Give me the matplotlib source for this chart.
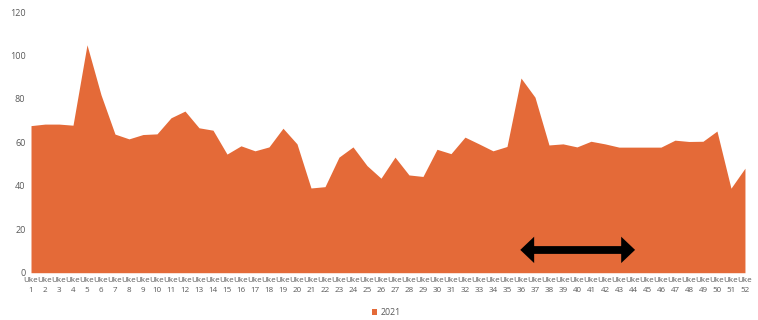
import matplotlib.pyplot as plt
import numpy as np

weeks = list(range(1, 53))
labels = [f"Uke\n{w}" for w in weeks]
values_2021 = [67.7, 68.4, 68.4, 67.9, 104.9, 81.9, 63.8, 61.6, 63.6, 63.9,
               71.3, 74.4, 66.7, 65.6, 54.6, 58.4, 56.1, 57.9, 66.5, 59.3,
               39.0, 39.6, 53.2, 57.9, 49.3, 43.5, 53.2, 45.0, 44.3, 56.8,
               54.8, 62.4, 59.3, 56.1, 58.1, 89.6, 80.8, 58.8, 59.3, 57.9,
               60.5, 59.3, 57.8, 57.8, 57.8, 57.8, 61.0, 60.4, 60.5, 65.2,
               38.9, 48.1]
arrow_span = (35.95, 44.15)
arrow_level = 10.5

orange = '#E46A38'
grey = '#595959'

fig = plt.figure(figsize=(7.58, 3.2), dpi=100)
ax = fig.add_axes([0.0409, 0.1478, 0.9419, 0.8147])

ax.fill_between(weeks, values_2021, 0, color=orange, lw=0, label='2021')

# double arrow: straight shaft plus a head at each end
ax.plot([arrow_span[0] + 0.4, arrow_span[1] - 0.4], [arrow_level, arrow_level],
        color='black', lw=5.6, solid_capstyle='butt')
for end, start in [(arrow_span[0], arrow_span[0] + 1.0), (arrow_span[1], arrow_span[1] - 1.0)]:
    ax.annotate('', xy=(end, arrow_level), xytext=(start, arrow_level),
                arrowprops=dict(arrowstyle='simple,head_length=0.5,head_width=0.95,tail_width=0.3',
                                color='black', lw=0, mutation_scale=20,
                                shrinkA=0, shrinkB=0))

ax.set_xlim(1, 52)
ax.set_ylim(0, 120)
ax.set_yticks(range(0, 121, 20))
ax.set_xticks(weeks)
ax.set_xticklabels(labels, fontsize=5.8, color=grey, family='Open Sans', linespacing=1.6)
for t in ax.get_yticklabels():
    t.set_fontsize(6.5)
    t.set_color(grey)
    t.set_family('Open Sans')
ax.tick_params(axis='both', length=0, pad=4)
ax.tick_params(axis='x', pad=3)
for s in ax.spines.values():
    s.set_visible(False)

fig.legend(loc='lower center', bbox_to_anchor=(0.51, -0.015), frameon=False,
           handlelength=0.6, handleheight=0.6, handletextpad=0.4,
           prop={'family': 'Open Sans', 'size': 6.3}, labelcolor=grey)

fig.savefig('out.png', dpi=100)
